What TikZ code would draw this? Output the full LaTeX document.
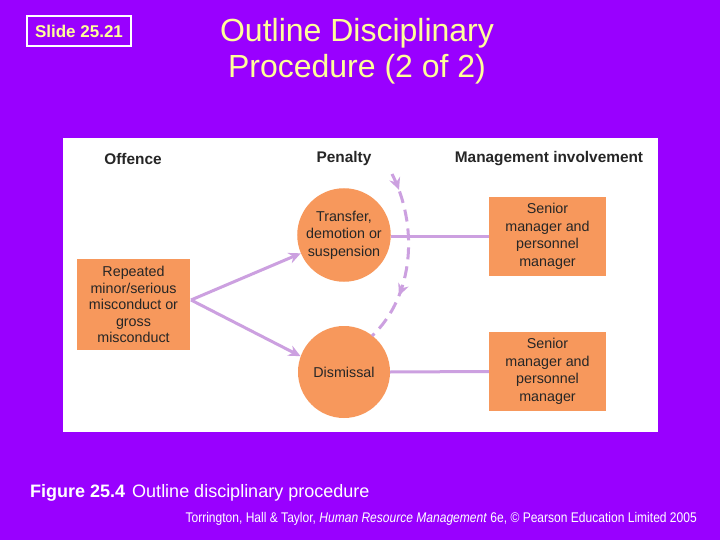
\documentclass[tikz,border=0pt]{standalone}
\usepackage{fontspec}
\setmainfont{Liberation Sans}
\usetikzlibrary{arrows.meta,decorations.markings}
\definecolor{bgpurple}{RGB}{153,0,255}
\definecolor{titleyellow}{RGB}{255,255,153}
\definecolor{boxorange}{RGB}{247,152,92}
\definecolor{lav}{RGB}{204,160,224}
\tikzset{
  orangebox/.style={fill=boxorange,draw=none,align=center,font=\fontsize{14.3}{16.5}\selectfont,text=black!85},
  penaltycircle/.style={circle,fill=boxorange,draw=none,minimum size=92pt,inner sep=0pt,align=center,font=\fontsize{14.3}{17.5}\selectfont,text=black!85},
  header/.style={font=\bfseries\fontsize{15.4}{18}\selectfont,text=black!85},
  lavarrow/.style={draw=lav,line width=3pt,-{Stealth[length=12pt,width=11pt]}},
  lavline/.style={draw=lav,line width=3pt},
}
\begin{document}
\begin{tikzpicture}[x=1pt,y=-1pt]
\fill[bgpurple] (0,0) rectangle (720,540);
\useasboundingbox (0,0) rectangle (720,540);
% slide label
\node[draw=white,line width=2pt,minimum width=104pt,minimum height=30pt,inner sep=0pt,text=titleyellow,font=\bfseries\fontsize{17}{19}\selectfont] (slide) at (79,31) {Slide 25.21};
% title
\node[text=titleyellow,align=center,font=\fontsize{32}{36}\selectfont] (title) at (357,51) {Outline Disciplinary\\Procedure (2 of 2)};
% panel
\fill[white] (63,138) rectangle (658,432);
\node[header] (h1) at (133,159) {Offence};
\node[header] (h2) at (344,159) {Penalty};
\node[header] (h3) at (549,159) {Management involvement};
% boxes
\node[orangebox,minimum width=113pt,minimum height=91pt,inner sep=0pt] (off) at (133.5,304.5) {Repeated\\minor/serious\\misconduct or\\gross\\misconduct};
\node[penaltycircle] (c1) at (344,235) {\raisebox{-1.5pt}{\parbox{80pt}{\centering Transfer,\\demotion or\\suspension}}};
\node[penaltycircle] (c2) at (344,372) {Dismissal};
\node[orangebox,minimum width=117pt,minimum height=79pt,inner sep=0pt,font=\fontsize{14.3}{17.5}\selectfont] (m1) at (547.5,236.5) {Senior\\manager and\\personnel\\manager};
\node[orangebox,minimum width=117pt,minimum height=79pt,inner sep=0pt,font=\fontsize{14.3}{17.5}\selectfont] (m2) at (547.5,371.5) {Senior\\manager and\\personnel\\manager};
% connectors
\coordinate (offr) at (191,300);
\draw[lavarrow] (offr) -- (c1.203);
\draw[lavarrow] (offr) -- (c2.160);
\draw[lavline] (c1.east |- m1.west) -- (m1.west);
\draw[lavline] (c2.east) -- (m2.west);
\coordinate (dstart) at (392,174);
\coordinate (dend) at (372,336);
\draw[draw=lav,line width=3pt,dash pattern=on 12pt off 7pt,
  postaction={decorate},
  decoration={markings,
    mark=at position 0.1 with {\arrow{Stealth[length=12pt,width=11pt]}},
    mark=at position 0.72 with {\arrow{Stealth[length=12pt,width=11pt]}}}]
  (dstart) .. controls (418,225) and (415,295) .. (dend);
% caption
\node[anchor=base west,text=white,font=\fontsize{18}{21}\selectfont,inner sep=0pt] (cap) at (30,497) {\textbf{Figure 25.4}\hspace{7pt}Outline disciplinary procedure};
\node[anchor=base east,text=white,font=\fontsize{14}{16}\selectfont,inner sep=0pt] (cite) at (697,522) {\addfontfeature{FakeStretch=0.86}Torrington, Hall \& Taylor, \textit{Human Resource Management} 6e, © Pearson Education Limited 2005};
\end{tikzpicture}
\end{document}
